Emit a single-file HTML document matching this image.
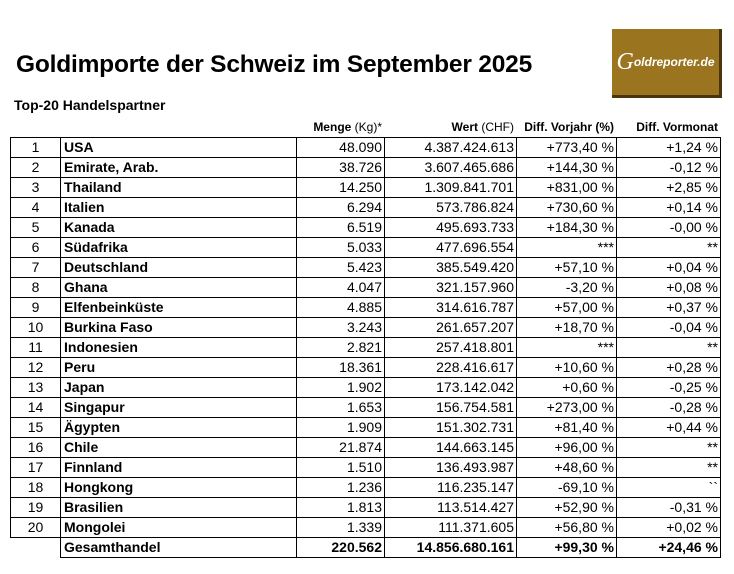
<!DOCTYPE html>
<html><head><meta charset="utf-8"><style>
body{margin:0;width:734px;height:574px;background:#fff;position:relative;overflow:hidden;font-family:"Liberation Sans",sans-serif;color:#000}
.t{position:absolute;left:16px;top:51px;font:bold 24.5px "Liberation Sans",sans-serif;letter-spacing:-0.2px}
.s{position:absolute;left:14px;top:97px;font-size:14px;font-weight:bold}
.logo{position:absolute;left:612px;top:29px;width:107px;height:66px;background:#9b7420;border-right:3px solid #4a360c;border-bottom:3px solid #4a360c;color:#fff;font:bold italic 12px "Liberation Sans",sans-serif;display:flex;align-items:center;justify-content:center}
.logo b{font-size:24px;font-weight:normal;font-family:"Liberation Serif",serif}
.h{position:absolute;top:120px;font-size:12px;font-weight:bold;text-align:right}
.h span{font-weight:normal}
table{position:absolute;left:10px;top:137px;width:710px;border-collapse:collapse;table-layout:fixed;font-size:14px}
td{border:1px solid #000;height:19px;padding:0 2px;line-height:19px;white-space:nowrap;overflow:hidden}
td:nth-child(1){text-align:center}
td:nth-child(2){font-weight:bold;padding-left:3px}
td:nth-child(n+3){text-align:right}
tr.g td{font-weight:bold}
tr.g td:first-child{border:none;border-right:1px solid #000}
</style></head><body>
<div class="t">Goldimporte der Schweiz im September 2025</div>
<div class="logo"><b>G</b>oldreporter.de</div>
<div class="s">Top-20 Handelspartner</div>
<div class="h" style="left:290px;width:92px">Menge <span>(Kg)*</span></div>
<div class="h" style="left:400px;width:114px">Wert <span>(CHF)</span></div>
<div class="h" style="left:510px;width:104px">Diff. Vorjahr (%)</div>
<div class="h" style="left:616px;width:102px">Diff. Vormonat</div>
<table>
<colgroup><col style="width:50px"><col style="width:236px"><col style="width:88px"><col style="width:132px"><col style="width:100px"><col style="width:104px"></colgroup>
<tr><td>1</td><td>USA</td><td>48.090</td><td>4.387.424.613</td><td>+773,40 %</td><td>+1,24 %</td></tr>
<tr><td>2</td><td>Emirate, Arab.</td><td>38.726</td><td>3.607.465.686</td><td>+144,30 %</td><td>-0,12 %</td></tr>
<tr><td>3</td><td>Thailand</td><td>14.250</td><td>1.309.841.701</td><td>+831,00 %</td><td>+2,85 %</td></tr>
<tr><td>4</td><td>Italien</td><td>6.294</td><td>573.786.824</td><td>+730,60 %</td><td>+0,14 %</td></tr>
<tr><td>5</td><td>Kanada</td><td>6.519</td><td>495.693.733</td><td>+184,30 %</td><td>-0,00 %</td></tr>
<tr><td>6</td><td>Südafrika</td><td>5.033</td><td>477.696.554</td><td>***</td><td>**</td></tr>
<tr><td>7</td><td>Deutschland</td><td>5.423</td><td>385.549.420</td><td>+57,10 %</td><td>+0,04 %</td></tr>
<tr><td>8</td><td>Ghana</td><td>4.047</td><td>321.157.960</td><td>-3,20 %</td><td>+0,08 %</td></tr>
<tr><td>9</td><td>Elfenbeinküste</td><td>4.885</td><td>314.616.787</td><td>+57,00 %</td><td>+0,37 %</td></tr>
<tr><td>10</td><td>Burkina Faso</td><td>3.243</td><td>261.657.207</td><td>+18,70 %</td><td>-0,04 %</td></tr>
<tr><td>11</td><td>Indonesien</td><td>2.821</td><td>257.418.801</td><td>***</td><td>**</td></tr>
<tr><td>12</td><td>Peru</td><td>18.361</td><td>228.416.617</td><td>+10,60 %</td><td>+0,28 %</td></tr>
<tr><td>13</td><td>Japan</td><td>1.902</td><td>173.142.042</td><td>+0,60 %</td><td>-0,25 %</td></tr>
<tr><td>14</td><td>Singapur</td><td>1.653</td><td>156.754.581</td><td>+273,00 %</td><td>-0,28 %</td></tr>
<tr><td>15</td><td>Ägypten</td><td>1.909</td><td>151.302.731</td><td>+81,40 %</td><td>+0,44 %</td></tr>
<tr><td>16</td><td>Chile</td><td>21.874</td><td>144.663.145</td><td>+96,00 %</td><td>**</td></tr>
<tr><td>17</td><td>Finnland</td><td>1.510</td><td>136.493.987</td><td>+48,60 %</td><td>**</td></tr>
<tr><td>18</td><td>Hongkong</td><td>1.236</td><td>116.235.147</td><td>-69,10 %</td><td>``</td></tr>
<tr><td>19</td><td>Brasilien</td><td>1.813</td><td>113.514.427</td><td>+52,90 %</td><td>-0,31 %</td></tr>
<tr><td>20</td><td>Mongolei</td><td>1.339</td><td>111.371.605</td><td>+56,80 %</td><td>+0,02 %</td></tr>
<tr class="g"><td></td><td>Gesamthandel</td><td>220.562</td><td>14.856.680.161</td><td>+99,30 %</td><td>+24,46 %</td></tr>
</table>
</body></html>
